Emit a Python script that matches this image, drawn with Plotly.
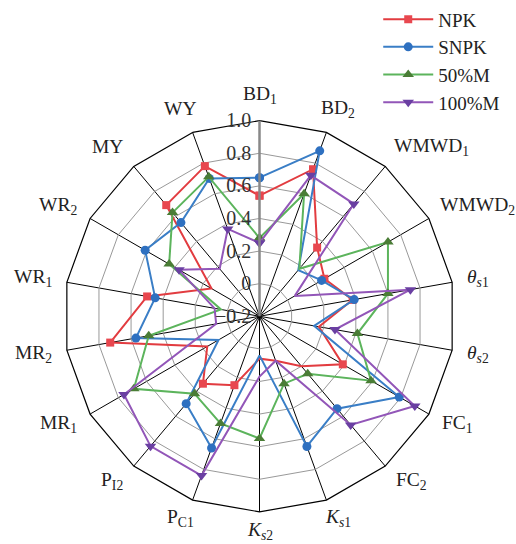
import math
import plotly.graph_objects as go

categories = ["BD<sub>1</sub>", "BD<sub>2</sub>", "WMWD<sub>1</sub>", "WMWD<sub>2</sub>",
              "<i>θ</i><sub><i>s</i>1</sub>", "<i>θ</i><sub><i>s</i>2</sub>",
              "FC<sub>1</sub>", "FC<sub>2</sub>",
              "<i>K</i><sub><i>s</i>1</sub>", "<i>K</i><sub><i>s</i>2</sub>",
              "P<sub>C1</sub>", "P<sub>I2</sub>", "MR<sub>1</sub>", "MR<sub>2</sub>",
              "WR<sub>1</sub>", "WR<sub>2</sub>", "MY", "WY"]
npk = [0.54, 0.76, 0.35, 0.26, 0.38, 0.17, 0.39, 0.20, 0.09, 0.06, 0.25, 0.34, 0.17, 0.73, 0.50, 0.14, 0.69, 0.78]
snpk = [0.65, 0.88, 0.17, 0.24, 0.39, 0.14, 0.79, 0.54, 0.65, 0.04, 0.66, 0.50, 0.09, 0.57, 0.45, 0.61, 0.55, 0.70]
m50 = [0.28, 0.60, 0.18, 0.71, 0.60, 0.41, 0.59, 0.26, 0.24, 0.55, 0.50, 0.42, 0.69, 0.49, 0.04, 0.44, 0.63, 0.71]
m100 = [0.25, 0.72, 0.70, 0.05, 0.74, 0.27, 0.90, 0.67, 0.09, 0.17, 0.84, 0.84, 0.76, 0.07, 0.08, 0.37, 0.18, 0.37]
series_names = ["NPK", "SNPK", "50%M", "100%M"]
tick_vals = [-0.2, 0, 0.2, 0.4, 0.6, 0.8, 1.0]
tick_text = ["−0.2", "0", "0.2", "0.4", "0.6", "0.8", "1.0"]

styles = [
    dict(line="#e23c40", marker="#e8474f", symbol="square", size=8),
    dict(line="#3a7ec6", marker="#2e70c0", symbol="circle", size=9),
    dict(line="#5cb45c", marker="#4a7d36", symbol="triangle-up", size=10),
    dict(line="#9256b8", marker="#6a3fa2", symbol="triangle-down", size=10),
]

W, H = 516, 544
# polar geometry (pixels)
cx_px, cy_px, rad_px = 259.5, 315.0, 196.7
dom_x = [(cx_px - rad_px) / W, (cx_px + rad_px) / W]
dom_y = [(H - cy_px - rad_px) / H, (H - cy_px + rad_px) / H]

fig = go.Figure()
for name, vals, st in zip(series_names, [npk, snpk, m50, m100], styles):
    fig.add_trace(go.Scatterpolar(
        r=vals + vals[:1], theta=categories + categories[:1], name=name,
        mode="lines+markers",
        line=dict(color=st["line"], width=2),
        marker=dict(color=st["marker"], symbol=st["symbol"], size=st["size"]),
    ))

font_family = "Liberation Serif, Times New Roman, serif"

# category labels placed around the polygon
annotations = []
n = len(categories)
for i, lab in enumerate(categories):
    a = math.radians(360.0 * i / n)
    s, c = math.sin(a), math.cos(a)
    dy = (1.13 if c > 0 else 1.10) * rad_px * c
    if abs(s) < 0.4:
        dx = 1.17 * rad_px * s
        xanchor = "center"
    else:
        dx = (1.045 if (s > 0 and c > 0.3) else 1.06) * rad_px * s
        xanchor = "left" if s > 0 else "right"
    annotations.append(dict(
        x=(cx_px + dx) / W, y=(H - cy_px + dy) / H, xref="paper", yref="paper",
        text=lab, showarrow=False, xanchor=xanchor, yanchor="middle",
        font=dict(family=font_family, size=19.5, color="#222"),
    ))

fig.update_layout(
    width=W, height=H,
    margin=dict(l=0, r=0, t=0, b=0),
    paper_bgcolor="white",
    font=dict(family=font_family, size=20, color="#222"),
    annotations=annotations,
    polar=dict(
        domain=dict(x=dom_x, y=dom_y),
        bgcolor="white",
        gridshape="linear",
        angularaxis=dict(rotation=90, direction="clockwise", categoryorder="array",
                         categoryarray=categories, showticklabels=False,
                         showline=True, linecolor="black", linewidth=1.2,
                         gridcolor="black", gridwidth=1, ticks=""),
        radialaxis=dict(range=[-0.2, 1.0], tickvals=tick_vals, ticktext=tick_text,
                        angle=90, tickangle=90, side="counterclockwise",
                        showline=True, linecolor="#888", linewidth=2.5,
                        gridcolor="#999", gridwidth=1, ticks="",
                        tickfont=dict(family=font_family, size=20, color="#333")),
    ),
    legend=dict(x=0.733, y=1.005, xanchor="left", yanchor="top",
                bgcolor="rgba(0,0,0,0)",
                font=dict(family=font_family, size=19, color="#222"),
                itemwidth=50, tracegroupgap=0),
    showlegend=True,
)
fig.write_html("out.html", config={"displayModeBar": False},
               post_script="document.body.style.margin='0';document.body.style.overflow='hidden';")
